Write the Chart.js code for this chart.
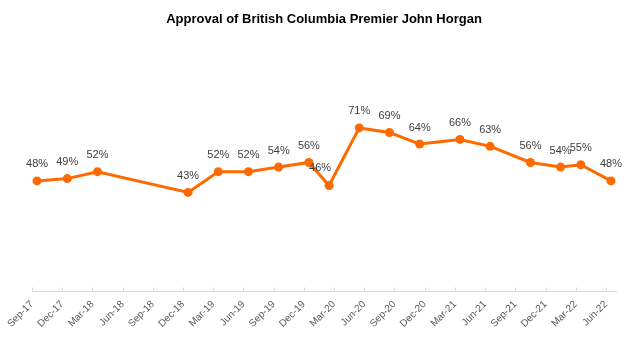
<!DOCTYPE html>
<html>
<head>
<meta charset="utf-8">
<script src="https://cdn.jsdelivr.net/npm/chart.js@4"></script>
<style>
  html, body { margin: 0; padding: 0; background: #fff; }
  #wrap { width: 630px; height: 342px; }
</style>
</head>
<body>
<div id="wrap"><canvas id="approvalChart" width="630" height="342"></canvas></div>
<script>
// survey dates and results
const surveyDates = ['Sep-17', 'Dec-17', 'Mar-18', 'Dec-18', 'Mar-19', 'Jun-19', 'Sep-19', 'Dec-19', 'Feb-20',
  'May-20', 'Aug-20', 'Nov-20', 'Mar-21', 'Jun-21', 'Oct-21', 'Jan-22', 'Mar-22', 'Jun-22'];
const approval = [48, 49, 52, 43, 52, 52, 54, 56, 46, 71, 69, 64, 66, 63, 56, 54, 55, 48];

// axis labels (quarterly)
const tickLabels = ['Sep-17', 'Dec-17', 'Mar-18', 'Jun-18', 'Sep-18', 'Dec-18', 'Mar-19', 'Jun-19', 'Sep-19', 'Dec-19',
  'Mar-20', 'Jun-20', 'Sep-20', 'Dec-20', 'Mar-21', 'Jun-21', 'Sep-21', 'Dec-21', 'Mar-22', 'Jun-22'];

const MONTHS = ['Jan', 'Feb', 'Mar', 'Apr', 'May', 'Jun', 'Jul', 'Aug', 'Sep', 'Oct', 'Nov', 'Dec'];

// months since Sep-17, mid-month
function monthIndex(s) {
  const [m, y] = s.split('-');
  return (parseInt(y) - 17) * 12 + MONTHS.indexOf(m) - 8 + 0.5;
}

const ORANGE = 'rgb(255,106,0)';

const valueLabels = {
  id: 'valueLabels',
  afterDatasetsDraw(chart) {
    const ctx = chart.ctx;
    const meta = chart.getDatasetMeta(0);
    ctx.save();
    ctx.font = '11px "Liberation Sans", Arial, sans-serif';
    ctx.fillStyle = '#404040';
    ctx.textAlign = 'center';
    ctx.textBaseline = 'middle';
    meta.data.forEach((pt, i) => {
      let dx = 0, dy = -16.5;
      if (i === 8) { dx = -9; dy = -18; } // label nudged left in original
      ctx.fillText(approval[i] + '%', pt.x + dx, pt.y + dy);
    });
    ctx.restore();
  },
  afterDraw(chart) {
    // small tick marks pointing up from the axis
    const xs = chart.scales.x;
    const ctx = chart.ctx;
    ctx.save();
    ctx.strokeStyle = '#d9d9d9';
    ctx.lineWidth = 1;
    ctx.beginPath();
    xs.ticks.forEach(t => {
      const px = Math.round(xs.getPixelForValue(t.value)) + 0.5;
      ctx.moveTo(px, xs.top);
      ctx.lineTo(px, xs.top - 4);
    });
    ctx.stroke();
    ctx.restore();
  }
};

new Chart(document.getElementById('approvalChart').getContext('2d'), {
  type: 'line',
  data: {
    datasets: [{
      data: surveyDates.map((d, i) => ({ x: monthIndex(d), y: approval[i] })),
      borderColor: ORANGE,
      backgroundColor: ORANGE,
      borderWidth: 3,
      pointRadius: 4.5,
      pointBorderWidth: 0,
      pointBackgroundColor: ORANGE,
      tension: 0,
      clip: false
    }]
  },
  options: {
    responsive: false,
    animation: false,
    layout: { padding: { left: 32, right: 14, top: 0, bottom: 0 } },
    plugins: {
      legend: { display: false },
      tooltip: { enabled: false },
      title: {
        display: true,
        text: 'Approval of British Columbia Premier John Horgan',
        color: '#000',
        font: { family: '"Liberation Sans", Arial, sans-serif', size: 13, weight: 'bold' },
        padding: { top: 11.5, bottom: 34 }
      }
    },
    scales: {
      x: {
        type: 'linear',
        min: 0,
        max: 58,
        afterBuildTicks: s => { s.ticks = tickLabels.map((_, i) => ({ value: i * 3 })); },
        afterFit: s => { s.height = 50.5; },
        grid: { display: false, drawTicks: false },
        border: { display: true, color: '#d9d9d9', width: 1 },
        ticks: {
          autoSkip: false,
          maxRotation: 45,
          minRotation: 45,
          padding: 7,
          color: '#595959',
          font: { family: '"Liberation Sans", Arial, sans-serif', size: 10 },
          callback: v => tickLabels[v / 3] || ''
        }
      },
      y: {
        display: false,
        min: 0,
        max: 100
      }
    }
  },
  plugins: [valueLabels]
});
</script>
</body>
</html>
